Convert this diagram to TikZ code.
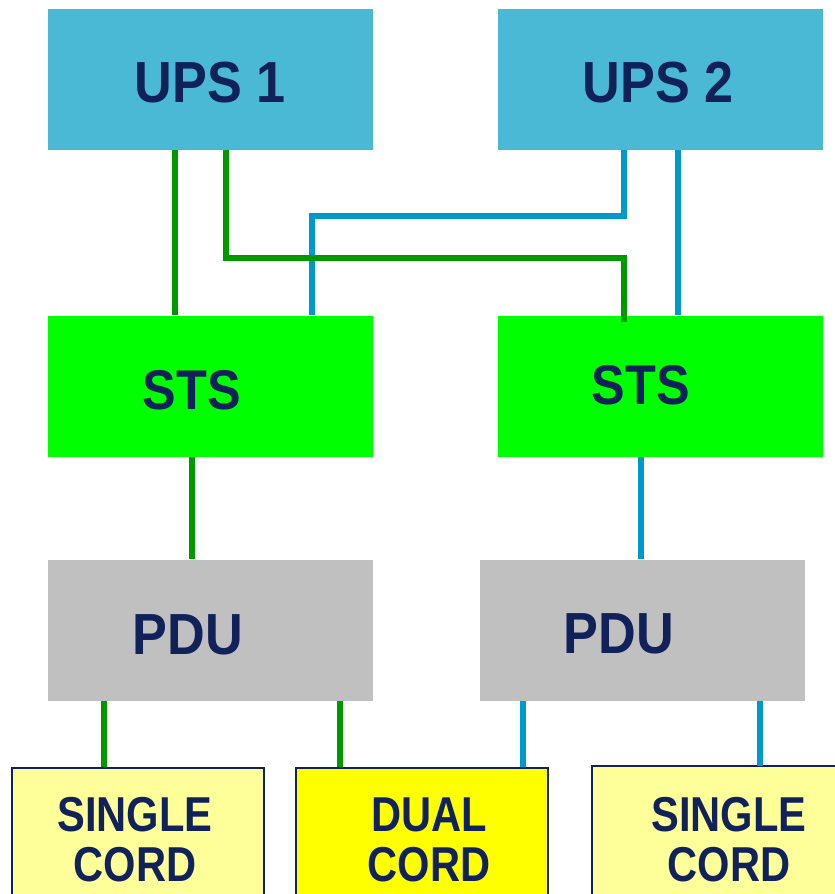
\documentclass[tikz,border=0pt]{standalone}
\usepackage{fontspec}
\newfontfamily\bigfont[FakeStretch=0.9]{Liberation Sans}
\newfontfamily\smallfont[FakeStretch=0.85]{Liberation Sans}
\definecolor{navy}{RGB}{17,34,90}
\definecolor{upsblue}{RGB}{74,185,213}
\definecolor{stsgreen}{RGB}{0,255,0}
\definecolor{pdugray}{RGB}{192,192,192}
\definecolor{paleyellow}{RGB}{255,255,153}
\definecolor{brightyellow}{RGB}{255,255,0}
\definecolor{wiregreen}{RGB}{0,153,0}
\definecolor{wireblue}{RGB}{0,153,204}
\begin{document}
\begin{tikzpicture}[x=1pt,y=-1pt,
  box/.style={draw=none,minimum width=325pt,minimum height=141pt,inner sep=0pt},
  cordbox/.style={draw=navy,line width=2pt,minimum width=252pt,minimum height=140pt,inner sep=0pt},
  bigtxt/.style={inner sep=0pt,text=navy,font=\bigfont\bfseries\fontsize{58}{60}\selectfont},
  midtxt/.style={inner sep=0pt,text=navy,font=\bigfont\bfseries\fontsize{56}{58}\selectfont},
  smalltxt/.style={inner sep=0pt,text=navy,align=center,font=\smallfont\bfseries\fontsize{49}{50}\selectfont},
  gw/.style={draw=wiregreen,line width=6pt},
  bw/.style={draw=wireblue,line width=6pt}]
\useasboundingbox (0,0) rectangle (835,894);
% boxes
\node[box,fill=upsblue] (ups1) at (210.5,79.5) {};
\node[box,fill=upsblue] (ups2) at (660,79.5) {};
\node[box,fill=stsgreen] (sts1) at (210.5,386) {};
\node[box,fill=stsgreen] (sts2) at (660,386) {};
\node[box,fill=pdugray] (pdu1) at (210.5,630) {};
\node[box,fill=pdugray] (pdu2) at (642,630) {};
\node[cordbox,fill=paleyellow] (single1) at (137.5,838) {};
\node[cordbox,fill=brightyellow] (dual) at (422,838) {};
\node[cordbox,draw=none,fill=paleyellow,minimum width=270pt] (single2) at (728,837) {};
\draw[navy,line width=2pt] (single2.south west) -- (single2.north west) -- (single2.north east);
% texts
\node[bigtxt] (t-ups1) at (210,83) {UPS 1};
\node[bigtxt] (t-ups2) at (658,83) {UPS 2};
\node[midtxt] (t-sts1) at (192,390) {STS};
\node[midtxt] (t-sts2) at (641,385) {STS};
\node[bigtxt] (t-pdu1) at (188,635) {PDU};
\node[bigtxt] (t-pdu2) at (619,634) {PDU};
\node[smalltxt] (t-single1) at (135,839.5) {SINGLE\\CORD};
\node[smalltxt] (t-dual) at (429,839.5) {DUAL\\CORD};
\node[smalltxt] (t-single2) at (729,839.5) {SINGLE\\CORD};
% wires
\draw[bw] (624,0 |- ups2.south) -- (624,216) -- (312,216) -- (312,0 |- sts1.north);
\draw[bw] (678,0 |- ups2.south) -- (678,0 |- sts2.north);
\draw[gw] (175,0 |- ups1.south) -- (175,0 |- sts1.north);
\draw[gw] (226,0 |- ups1.south) -- (226,258) -- (624,258) -- (624,322);
\draw[gw] (192,0 |- sts1.south) -- (192,0 |- pdu1.north);
\draw[bw] (641,0 |- sts2.south) -- (641,0 |- pdu2.north);
\draw[gw] (104,0 |- pdu1.south) -- (104,0 |- single1.north);
\draw[gw] (340,0 |- pdu1.south) -- (340,0 |- dual.north);
\draw[bw] (523,0 |- pdu2.south) -- (523,0 |- dual.north);
\draw[bw] (760,0 |- pdu2.south) -- (760,0 |- single2.north);
\end{tikzpicture}
\end{document}
